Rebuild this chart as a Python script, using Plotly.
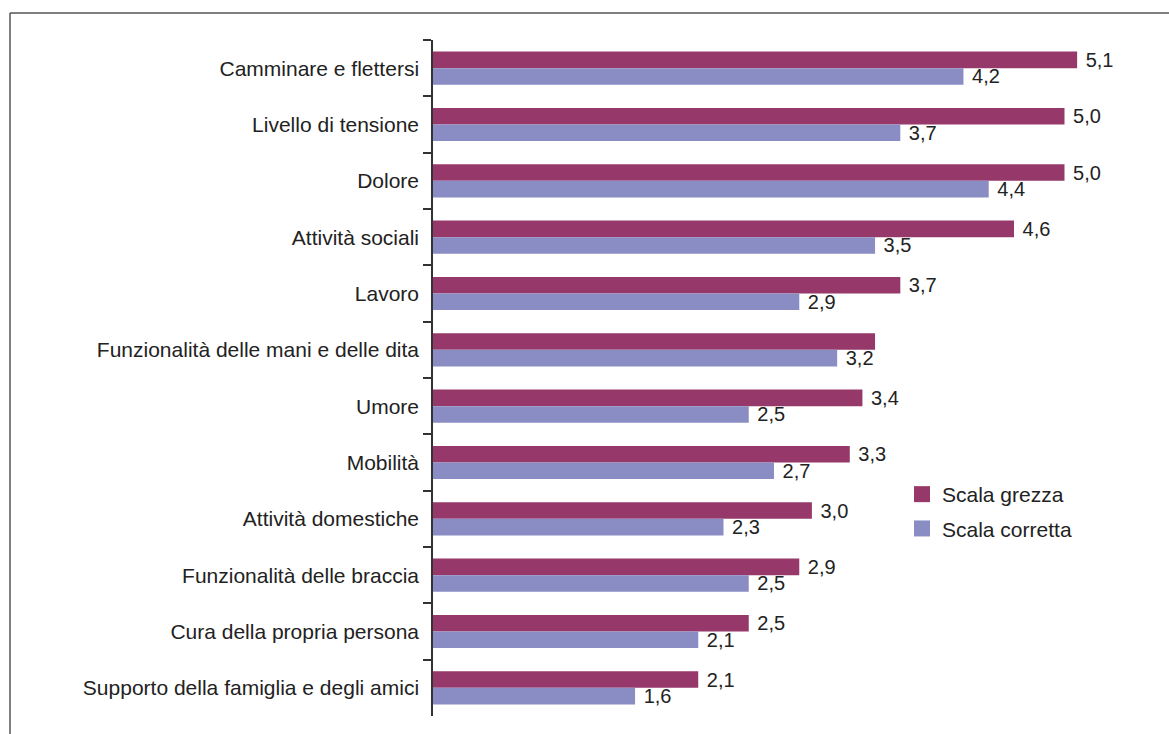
import plotly.graph_objects as go

categories = [
    "Camminare e flettersi",
    "Livello di tensione",
    "Dolore",
    "Attività sociali",
    "Lavoro",
    "Funzionalità delle mani e delle dita",
    "Umore",
    "Mobilità",
    "Attività domestiche",
    "Funzionalità delle braccia",
    "Cura della propria persona",
    "Supporto della famiglia e degli amici",
]
raw_values = [5.1, 5.0, 5.0, 4.6, 3.7, 3.5, 3.4, 3.3, 3.0, 2.9, 2.5, 2.1]
raw_label_shown = [True, True, True, True, True, False, True, True, True, True, True, True]
corr_values = [4.2, 3.7, 4.4, 3.5, 2.9, 3.2, 2.5, 2.7, 2.3, 2.5, 2.1, 1.6]
series_names = ["Scala grezza", "Scala corretta"]
series_colors = ["#96386A", "#8A8DC4"]

def fmt(v):
    return "\u00a0" + f"{v:.1f}".replace(".", ",")

raw_text = [fmt(v) if s else "" for v, s in zip(raw_values, raw_label_shown)]
corr_text = [fmt(v) for v in corr_values]

FONT = "Liberation Sans, Arial, Helvetica, sans-serif"
W, H = 1169, 734
ML, MR, MT, MB = 433, 29, 40, 18
pw = W - ML - MR
ph = H - MT - MB

fig = go.Figure()
for vals, txt, name, col in [(raw_values, raw_text, series_names[0], series_colors[0]),
                             (corr_values, corr_text, series_names[1], series_colors[1])]:
    fig.add_trace(go.Bar(
        y=categories, x=vals, orientation="h", name=name, showlegend=False,
        marker=dict(color=col, line=dict(width=0)),
        text=txt, textposition="outside", cliponaxis=False, constraintext="none",
        textfont=dict(size=20, color="#222222", family=FONT),
    ))
# legend entries with larger square symbols
for name, col in zip(series_names, series_colors):
    fig.add_trace(go.Scatter(
        x=[None], y=[None], mode="markers", name=name, legendgroup=name,
        marker=dict(symbol="square", size=17, color=col),
    ))

fig.update_layout(
    width=W, height=H,
    margin=dict(l=ML, r=MR, t=MT, b=MB),
    paper_bgcolor="white", plot_bgcolor="white",
    barmode="group", bargap=0.41, bargroupgap=0,
    font=dict(family=FONT, size=21, color="#222222"),
    showlegend=True,
    legend=dict(
        x=(902 - ML) / pw, y=1 - (474 - MT) / ph, xanchor="left", yanchor="top",
        font=dict(size=21, color="#222222", family=FONT),
        bgcolor="rgba(0,0,0,0)", traceorder="grouped", tracegroupgap=4,
        itemwidth=30, itemsizing="trace",
    ),
    xaxis=dict(range=[0, pw / 126.3], visible=False, showgrid=False, zeroline=False),
    yaxis=dict(
        autorange="reversed", showline=True, linecolor="#333333", linewidth=1.5,
        ticks="outside", ticklen=8, tickcolor="#333333", tickwidth=1.5,
        tickson="boundaries", showgrid=False, ticklabelstandoff=8,
        tickfont=dict(size=21, color="#222222", family=FONT),
    ),
    shapes=[
        dict(type="line", xref="paper", yref="paper",
             x0=(10 - ML) / pw, x1=(W + 5 - ML) / pw,
             y0=1 + (MT - 13) / ph, y1=1 + (MT - 13) / ph,
             line=dict(color="#555555", width=1.5)),
        dict(type="line", xref="paper", yref="paper",
             x0=(10 - ML) / pw, x1=(10 - ML) / pw,
             y0=1 + (MT - 13) / ph, y1=-(MB + 5) / ph,
             line=dict(color="#555555", width=1.5)),
    ],
)

fig.write_html("out.html", config={"displayModeBar": False},
               post_script="document.body.style.margin='0';")
